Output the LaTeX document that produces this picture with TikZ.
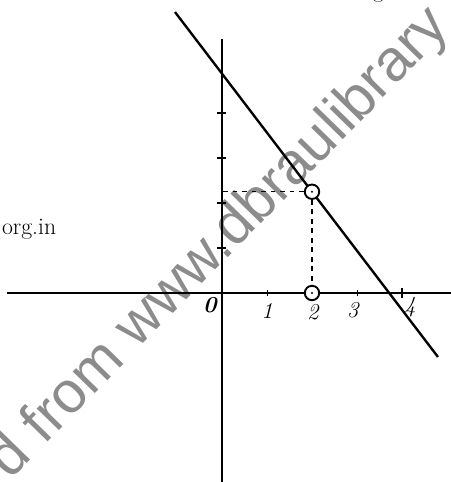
\documentclass[tikz,border=0pt]{standalone}
\usepackage{fontspec}
\newfontfamily\wmfont{Liberation Sans}
\tikzset{
  axisline/.style={line width=1.5pt},
  ptmark/.style={circle,draw,very thick,fill=white,minimum size=0.32cm,inner sep=0pt},
  numlbl/.style={font=\Large\itshape},
  wmark/.style={text=black!45,font=\wmfont\fontsize{37}{42}\selectfont}
}
\begin{document}
\begin{tikzpicture}
\useasboundingbox (-4.933,-4.2) rectangle (5.089,6.511);
\node[wmark,rotate=45.7,anchor=base west] (W) at (-4.78,-4.25) {d from www.dbraulibrary};
\node[anchor=base west,font=\fontsize{15}{18}\selectfont] (F) at (2.78,6.57) {Figure 33};
\node[anchor=base east,font=\fontsize{15}{18}\selectfont] (T) at (-3.56,1.29) {org.in};
\coordinate (XL) at (-4.78,0);
\coordinate (XR) at (5.1,0);
\coordinate (YT) at (0,5.64);
\coordinate (YB) at (0,-4.25);
\coordinate (L1) at (-1.044,6.244);
\coordinate (L2) at (4.8,-1.422);
\coordinate (Y2) at (0,2.25);
\draw[axisline] (XL)--(XR);
\draw[axisline] (YT)--(YB);
\draw[axisline] (L1)--(L2);
\draw (1,-0.06)--(1,0.06);
\draw (3,-0.06)--(3,0.06);
\draw[thick] (4,-0.12)--(4,0.12);
\draw[thick] (-0.1,1)--(0.1,1);
\draw[thick] (-0.1,2)--(0.1,2);
\draw[thick] (-0.1,3)--(0.1,3);
\draw[thick] (-0.1,4)--(0.1,4);
\node[ptmark] (P) at (2,2.25) {};
\node[ptmark] (Q) at (2,0) {};
\fill (P) circle (0.7pt);
\fill (Q) circle (0.7pt);
\draw[thick,dashed] (P)--(Y2);
\draw[thick,dashed] (P)--(Q);
\node[numlbl,font=\Large\bfseries\itshape] (O) at (-0.27,-0.28) {0};
\node[numlbl] (N1) at (1.0,-0.4) {1};
\node[numlbl] (N2) at (2.02,-0.42) {2};
\node[numlbl] (N3) at (2.91,-0.38) {3};
\node[numlbl] (N4) at (4.18,-0.31) {4};
\end{tikzpicture}
\end{document}
